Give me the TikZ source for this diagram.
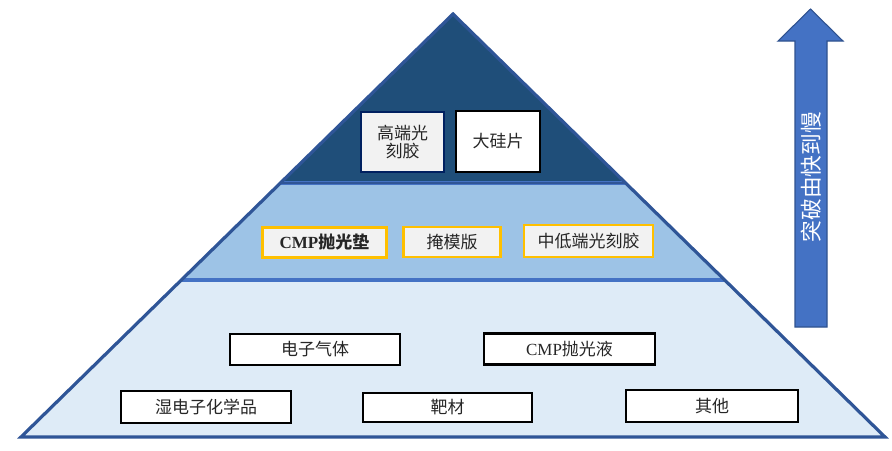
\documentclass[tikz,border=0pt]{standalone}
\usepackage{fontspec}
\setmainfont{Liberation Serif}
\newfontfamily\cjk{Noto Sans CJK SC}
\definecolor{topc}{HTML}{1F4E79}
\definecolor{midc}{HTML}{9DC3E6}
\definecolor{botc}{HTML}{DEEBF7}
\definecolor{edgec}{HTML}{2F5597}
\definecolor{sepc}{HTML}{4472C4}
\definecolor{navy}{HTML}{002060}
\definecolor{goldc}{HTML}{FFC000}
\definecolor{greyf}{HTML}{F2F2F2}
\definecolor{arrowc}{HTML}{4472C4}
\definecolor{arrowe}{HTML}{2F528F}
\tikzset{
  tier/.style={draw=edgec, line width=2.4pt, line join=miter},
  bw/.style={minimum width={#1*0.75pt}},
  bh/.style={minimum height={#1*0.75pt}},
  boxbase/.style={rectangle, inner sep=0pt, font=\cjk\fontsize{12.75}{15}\selectfont, text=black!85},
  navybox/.style={boxbase, fill=greyf, draw=navy, line width=2pt, align=center},
  blackbox/.style={boxbase, fill=white, draw=black, line width=2.2pt},
  goldbox/.style={boxbase, fill=greyf, draw=goldc, line width=2.2pt},
  whitebox/.style={boxbase, fill=white, draw=black, line width=1.9pt},
}
\begin{document}
\begin{tikzpicture}[x=0.75pt, y=-0.75pt]
\useasboundingbox (0,0) rectangle (892,450);
% pyramid tiers
\coordinate (apex) at (453,14);
\coordinate (l1) at (280,183);
\coordinate (r1) at (626,183);
\coordinate (l2) at (181,280);
\coordinate (r2) at (725,280);
\coordinate (bl) at (21,437);
\coordinate (br) at (885,437);
\fill[botc] (l2) -- (r2) -- (br) -- (bl) -- cycle;
\fill[midc] (l1) -- (r1) -- (r2) -- (l2) -- cycle;
\fill[topc] (apex) -- (r1) -- (l1) -- cycle;
\draw[sepc, line width=2.4pt] (l1) -- (r1);
\draw[sepc, line width=2.4pt] (l2) -- (r2);
\draw[tier] (apex) -- (br) -- (bl) -- cycle;
\draw[edgec, line width=1.2pt] (l1) -- (r1);
% top boxes
\node[navybox, bw=83, bh=60] (gd) at (402.5,142) {高端光\\[-1pt]刻胶};
\node[blackbox, bw=84, bh=61] (dgp) at (498,141.5) {大硅片};
% middle boxes
\node[goldbox, bw=124, bh=30] (cmpd) at (324.5,242.5) {\bfseries{\rmfamily CMP}抛光垫};
\node[goldbox, bw=97, bh=30] (ymb) at (452,242) {掩模版};
\node[goldbox, bw=129, bh=32] (zd) at (588.5,241) {中低端光刻胶};
% bottom boxes
\node[whitebox, bw=170, bh=31] (dzqt) at (315,349.5) {电子气体};
\node[whitebox, bw=171, bh=31] (cmpy) at (569.5,349) {{\rmfamily CMP}抛光液};
\node[whitebox, bw=170, bh=32] (sdz) at (206,407) {湿电子化学品};
\node[whitebox, bw=169, bh=29] (bc) at (447.5,407.5) {靶材};
\node[whitebox, bw=172, bh=32] (qt) at (712,406) {其他};
% arrow
\draw[arrowe, fill=arrowc, line width=0.8pt] (795,327) -- (795,41) -- (778,41) -- (810.5,9) -- (843,41) -- (827,41) -- (827,327) -- cycle;
\node[rotate=90, text=white, font=\cjk\fontsize{16.3}{18}\selectfont, inner sep=0pt] (arrtxt) at (811,177) {突破由快到慢};
\end{tikzpicture}
\end{document}
